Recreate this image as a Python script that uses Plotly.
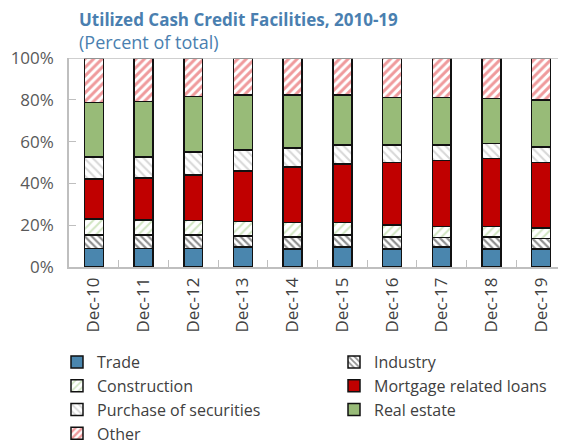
import plotly.graph_objects as go

categories = ["Dec-10", "Dec-11", "Dec-12", "Dec-13", "Dec-14", "Dec-15", "Dec-16", "Dec-17", "Dec-18", "Dec-19"]
trade = [8.8, 8.8, 8.8, 9.5, 8.5, 9.6, 8.5, 9.5, 8.5, 8.5]
industry = [6.6, 6.6, 6.6, 5.4, 5.9, 5.6, 5.9, 4.6, 5.9, 5.1]
construction = [7.6, 7.2, 6.8, 6.9, 6.8, 6.0, 5.8, 5.3, 5.0, 5.0]
mortgage = [19.1, 20.1, 21.9, 24.1, 26.6, 28.2, 29.9, 31.6, 32.4, 31.3]
securities = [10.5, 9.9, 11.0, 10.0, 9.2, 9.0, 8.3, 7.3, 7.3, 7.6]
real_estate = [26.1, 26.5, 26.4, 26.4, 25.3, 23.9, 22.7, 22.8, 21.6, 22.4]
other = [21.3, 20.9, 18.5, 17.7, 17.7, 17.7, 18.9, 18.9, 19.3, 20.1]
y_ticks = [0, 20, 40, 60, 80, 100]
y_ticklabels = ["0%", "20%", "40%", "60%", "80%", "100%"]

FONT = "Open Sans"
OFF = 8  # page body margin
W, H = 566 - OFF, 444 - OFF
ML, MR, MT, MB = 69 - OFF, 0, 58 - OFF, H - (267 - OFF)
PW = W - ML - MR
PH = H - MT - MB


def px_x(x):
    return (x - OFF - ML) / PW


def px_y(y):
    return 1 + (MT - (y - OFF)) / PH


series = [
    ("Trade", trade, dict(color="#4a86ae"), "legend"),
    ("Industry", industry, dict(color="white", pattern=dict(shape="\\", fgcolor="#222222", size=5, solidity=0.45)), "legend2"),
    ("Construction", construction, dict(color="white", pattern=dict(shape="/", fgcolor="#a3cc86", size=6, solidity=0.35)), "legend"),
    ("Mortgage related loans", mortgage, dict(color="#c00000"), "legend2"),
    ("Purchase of securities", securities, dict(color="white", pattern=dict(shape="\\", fgcolor="#b0b0b0", size=6, solidity=0.35)), "legend"),
    ("Real estate", real_estate, dict(color="#98bb78"), "legend2"),
    ("Other", other, dict(color="white", pattern=dict(shape="/", fgcolor="#e0353a", size=6, solidity=0.5)), "legend"),
]

fig = go.Figure()
for name, vals, mk, lg in series:
    mk = dict(mk)
    mk["line"] = dict(color="#111111", width=1.5)
    fig.add_trace(go.Bar(x=categories, y=vals, name=name, marker=mk, width=0.38, legend=lg))

LEG_FONT = dict(family=FONT, size=16, color="#404040")
LEG_TOP = 345 - OFF
fig.update_layout(
    barmode="stack",
    width=W, height=H,
    margin=dict(l=ML, r=MR, t=MT, b=MB, autoexpand=False),
    plot_bgcolor="white", paper_bgcolor="white",
    font=dict(family=FONT, size=15, color="#404040"),
    showlegend=True,
    legend=dict(
        orientation="v", xref="container", yref="container",
        x=(97 - OFF - 40) / W, xanchor="left", y=1 - LEG_TOP / H, yanchor="top",
        traceorder="normal", font=LEG_FONT, itemwidth=30, tracegroupgap=0,
    ),
    legend2=dict(
        orientation="v", xref="container", yref="container",
        x=(374 - OFF - 40) / W, xanchor="left", y=1 - LEG_TOP / H, yanchor="top",
        traceorder="normal", font=LEG_FONT, itemwidth=30, tracegroupgap=0,
    ),
    annotations=[
        dict(text="<b>Utilized Cash Credit Facilities, 2010-19</b>", x=px_x(77), y=px_y(19),
             xref="paper", yref="paper", showarrow=False,
             font=dict(family=FONT, size=17, color="#4a7fb0"), xanchor="left", yanchor="middle"),
        dict(text="(Percent of total)", x=px_x(77), y=px_y(42),
             xref="paper", yref="paper", showarrow=False,
             font=dict(family=FONT, size=18, color="#4a7fb0"), xanchor="left", yanchor="middle"),
    ],
)

fig.update_xaxes(
    type="category", range=[-0.5, 9.5], tickangle=-90, automargin=False,
    showline=True, linecolor="#bfbfbf", linewidth=1.5, mirror=False,
    ticks="inside", ticklen=7, tickcolor="#bfbfbf", tickson="boundaries",
    tickfont=dict(family=FONT, size=17, color="#404040"), ticklabelstandoff=2,
    showgrid=False,
)
fig.update_yaxes(
    range=[0, 100], tickvals=y_ticks, ticktext=y_ticklabels, automargin=False,
    showline=True, linecolor="#bfbfbf", linewidth=1.5,
    ticks="inside", ticklen=7, tickcolor="#bfbfbf",
    tickfont=dict(family=FONT, size=17, color="#595959"),
    showgrid=False, ticklabelstandoff=10,
)
fig.add_shape(type="line", xref="paper", yref="y", x0=0, x1=1, y0=100, y1=100,
              line=dict(color="#bfbfbf", width=1.5))

fig.write_html("out.html")
